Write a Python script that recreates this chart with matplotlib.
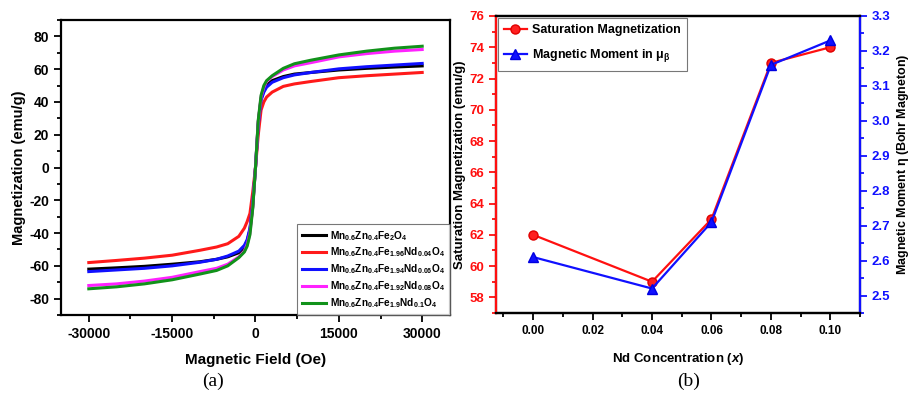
import matplotlib
matplotlib.use("Agg")
import matplotlib.pyplot as plt
from matplotlib.ticker import MultipleLocator, FixedLocator, FormatStrFormatter

plt.rcParams['font.family'] = ['Liberation Sans', 'DejaVu Sans']
plt.rcParams['font.weight'] = 'bold'
plt.rcParams['axes.unicode_minus'] = False
plt.rcParams['mathtext.fontset'] = 'custom'
plt.rcParams['mathtext.rm'] = 'Liberation Sans:bold'
plt.rcParams['mathtext.bf'] = 'Liberation Sans:bold'
plt.rcParams['mathtext.it'] = 'Liberation Sans:bold:italic'
plt.rcParams['mathtext.default'] = 'bf'

# ---------------- Panel (a) data ----------------
field = [-30000, -25000, -20000, -15000, -10000, -7000, -5000, -3000, -2000, -1500, -1000, -500, 0,
         500, 1000, 1500, 2000, 3000, 5000, 7000, 10000, 15000, 20000, 25000, 30000]
m_x000 = [-62.0, -61.2, -60.3, -59.0, -57.5, -56.0, -54.5, -52.0, -48.5, -45.0, -38.0, -24.0, 0.0,
          28.0, 42.0, 47.0, 50.0, 53.0, 55.5, 57.0, 58.0, 59.5, 60.5, 61.3, 62.0]
m_x004 = [-58.0, -56.7, -55.3, -53.5, -50.5, -48.5, -46.5, -42.0, -37.0, -33.0, -28.0, -15.0, 0.0,
          20.0, 35.0, 40.0, 43.0, 46.0, 49.5, 51.0, 52.5, 54.8, 56.0, 57.0, 58.0]
m_x006 = [-63.5, -62.5, -61.5, -60.0, -57.8, -56.0, -54.0, -51.0, -47.5, -44.0, -37.0, -22.0, 0.0,
          26.0, 41.0, 46.0, 49.0, 52.0, 54.8, 56.5, 58.0, 60.2, 61.5, 62.5, 63.5]
m_x008 = [-72.0, -71.0, -69.3, -67.0, -63.5, -61.5, -59.0, -54.5, -51.0, -47.0, -40.0, -24.0, 0.0,
          28.0, 43.0, 49.0, 52.5, 55.5, 59.5, 62.0, 64.0, 67.5, 69.5, 71.0, 72.0]
m_x010 = [-74.0, -72.8, -71.0, -68.5, -65.0, -62.8, -60.0, -55.0, -51.5, -48.0, -41.0, -25.0, 0.0,
          29.0, 44.0, 50.0, 53.0, 56.0, 60.5, 63.3, 65.5, 68.7, 71.0, 72.8, 74.0]
labels_a = [r'$Mn_{0.6}Zn_{0.4}Fe_{2}O_{4}$',
            r'$Mn_{0.6}Zn_{0.4}Fe_{1.96}Nd_{0.04}O_{4}$',
            r'$Mn_{0.6}Zn_{0.4}Fe_{1.94}Nd_{0.06}O_{4}$',
            r'$Mn_{0.6}Zn_{0.4}Fe_{1.92}Nd_{0.08}O_{4}$',
            r'$Mn_{0.6}Zn_{0.4}Fe_{1.9}Nd_{0.1}O_{4}$']
colors_a = ['black', '#ff1a1a', '#1010ff', '#ff22ff', '#11921a']

# ---------------- Panel (b) data ----------------
nd_conc = [0.00, 0.04, 0.06, 0.08, 0.10]
sat_mag = [62.0, 59.0, 63.0, 73.0, 74.0]
mag_moment = [2.61, 2.52, 2.71, 3.16, 3.23]

fig = plt.figure(figsize=(9.12, 3.97), dpi=100)

# ---------- (a) ----------
ax = fig.add_axes([0.0669, 0.2065, 0.4265, 0.7431])
for m, c, lab in zip([m_x000, m_x004, m_x006, m_x008, m_x010], colors_a, labels_a):
    ax.plot(field, m, color=c, lw=2.2, label=lab)
ax.set_xlim(-35000, 35000)
ax.set_ylim(-90, 90)
ax.xaxis.set_major_locator(FixedLocator([-30000, -15000, 0, 15000, 30000]))
ax.xaxis.set_minor_locator(MultipleLocator(7500))
ax.yaxis.set_major_locator(MultipleLocator(20))
ax.yaxis.set_minor_locator(MultipleLocator(10))
ax.tick_params(which='both', direction='out', top=False, right=False, width=1.3)
ax.tick_params(which='major', length=5, labelsize=10)
ax.tick_params(which='minor', length=3)
for s in ax.spines.values():
    s.set_linewidth(1.6)
ax.set_xlabel('Magnetic Field (Oe)', fontsize=11, fontweight='bold', labelpad=9)
ax.set_ylabel('Magnetization (emu/g)', fontsize=10.5, fontweight='bold', labelpad=2)
leg = ax.legend(loc='lower right', fontsize=7.3, frameon=True, fancybox=False,
                edgecolor='#555555', borderaxespad=0.0, handlelength=2.3,
                labelspacing=0.3, handletextpad=0.4, borderpad=0.5)
leg.get_frame().set_linewidth(0.8)
fig.text(0.2336, 0.04, '(a)', fontsize=14, family='Liberation Serif', fontweight='normal',
         ha='center', va='center')

# ---------- (b) ----------
bx = fig.add_axes([0.5439, 0.2116, 0.3991, 0.7481])
l1, = bx.plot(nd_conc, sat_mag, color='#ff1010', lw=1.6, marker='o', ms=6.5,
              markerfacecolor='#ff2020', markeredgecolor='#e00000', label='Saturation Magnetization')
bx.set_xlim(-0.0125, 0.11)
bx.set_ylim(57, 76)
bx.xaxis.set_major_locator(MultipleLocator(0.02))
bx.xaxis.set_minor_locator(MultipleLocator(0.01))
bx.yaxis.set_major_locator(MultipleLocator(2))
bx.yaxis.set_minor_locator(MultipleLocator(1))
bx.xaxis.set_major_formatter(FormatStrFormatter('%.2f'))
bx.tick_params(which='both', direction='out', top=False, width=1.3)
bx.tick_params(axis='x', which='major', length=5, labelsize=8.5)
bx.tick_params(axis='x', which='minor', length=3)
bx.tick_params(axis='y', which='major', length=5, labelsize=9.5, colors='#ff1010')
bx.tick_params(axis='y', which='minor', length=3, colors='#ff1010')
for s in bx.spines.values():
    s.set_linewidth(1.6)
bx.set_xlabel('Nd Concentration ($\\mathit{x}$)', fontsize=9.5, fontweight='bold', labelpad=10)
bx.set_ylabel('Saturation Magnetization (emu/g)', fontsize=9.5, fontweight='bold', labelpad=2)

cx = bx.twinx()
l2, = cx.plot(nd_conc, mag_moment, color='#1010ff', lw=1.6, marker='^', ms=6.5,
              markerfacecolor='#1010ff', markeredgecolor='#0000e0',
              label=r'Magnetic Moment in $\mathregular{\mu_{\beta}}$')
cx.set_ylim(2.45, 3.3)
cx.yaxis.set_major_locator(MultipleLocator(0.1))
cx.yaxis.set_minor_locator(MultipleLocator(0.05))
cx.yaxis.set_major_formatter(FormatStrFormatter('%.1f'))
cx.tick_params(axis='y', which='major', direction='out', length=5, width=1.3, labelsize=9.5, colors='#1010ff')
cx.tick_params(axis='y', which='minor', direction='out', length=3, width=1.3, colors='#1010ff')
cx.spines['right'].set_color('#1010ff')
cx.spines['left'].set_color('#ff1010')
for s in cx.spines.values():
    s.set_linewidth(1.6)
cx.set_ylabel('Magnetic Moment $\\mathregular{\\eta}$ (Bohr Magneton)', fontsize=9, fontweight='bold', labelpad=3)

leg2 = bx.legend([l1, l2], [l1.get_label(), l2.get_label()], loc='upper left', fontsize=9,
                 frameon=True, fancybox=False, edgecolor='#555555', borderaxespad=0.15,
                 handlelength=1.8, handletextpad=0.4, labelspacing=0.9, borderpad=0.5)
leg2.get_frame().set_linewidth(0.8)
fig.text(0.755, 0.04, '(b)', fontsize=14, family='Liberation Serif', fontweight='normal',
         ha='center', va='center')

fig.savefig('out.png', dpi=100)
